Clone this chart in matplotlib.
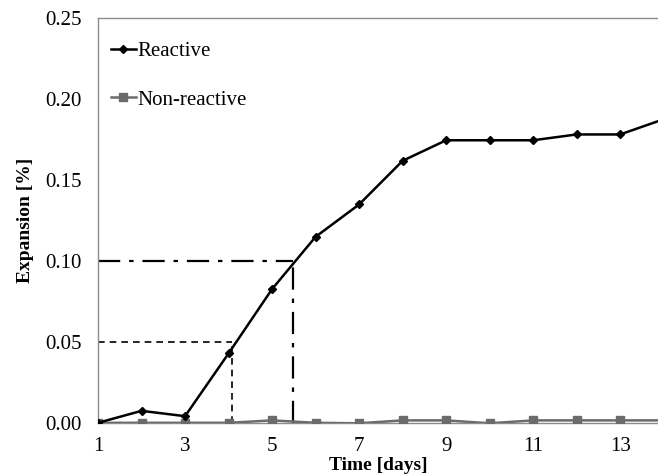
import matplotlib
matplotlib.use("Agg")
import matplotlib.pyplot as plt

plt.rcParams['font.family'] = ['Liberation Serif', 'DejaVu Serif']

days = [1, 2, 3, 4, 5, 6, 7, 8, 9, 10, 11, 12, 13, 14]
reactive = [0.0, 0.0074, 0.0041, 0.0429, 0.0827, 0.115, 0.135, 0.162,
            0.1747, 0.1747, 0.1747, 0.1783, 0.1783, 0.1877]
non_reactive = [0.0, 0.0, 0.0, 0.0, 0.0015, 0.0, -0.0003, 0.0015,
                0.0015, -0.0003, 0.0015, 0.0015, 0.0015, 0.0015]

# guide lines: (expansion level, day where reactive curve crosses it)
level_05 = (0.05, 4.08)
level_10 = (0.10, 5.48)

xticks = [1, 3, 5, 7, 9, 11, 13]
yticks = [0.0, 0.05, 0.10, 0.15, 0.20, 0.25]

fig = plt.figure(figsize=(6.58, 4.74), dpi=100)
ax = fig.add_axes([0.149, 0.108, 0.851, 0.853])

grey = '#6b6b6b'
ax.plot(days, non_reactive, color=grey, lw=1.8, marker='s', ms=6,
        label='Non-reactive', zorder=3)
ax.plot(days, reactive, color='black', lw=1.8, marker='D', ms=4.5,
        label='Reactive', zorder=4)

y, x = level_05
ax.plot([1, x], [y, y], color='black', lw=1.2, ls=(0, (4, 3)))
ax.plot([x, x], [0, y], color='black', lw=1.2, ls=(0, (4, 3)))
y, x = level_10
ax.plot([1, x], [y, y], color='black', lw=1.6, ls=(0, (10, 4, 2, 4)))
ax.plot([x, x], [0, y], color='black', lw=1.6, ls=(0, (10, 4, 2, 4)))

ax.set_xlim(1, 13.87)
ax.set_ylim(0, 0.25)
ax.set_xticks(xticks)
ax.set_yticks(yticks)
ax.set_yticklabels(['%.2f' % v for v in yticks])
ax.tick_params(length=0, labelsize=15)
ax.tick_params(axis='y', pad=12)
ax.tick_params(axis='x', pad=10)

for side in ['left', 'bottom', 'top']:
    ax.spines[side].set_color('#8c8c8c')
    ax.spines[side].set_linewidth(1.0)
ax.spines['right'].set_visible(False)
ax.spines['bottom'].set_zorder(2)

ax.set_xlabel('Time [days]', fontsize=14, fontweight='bold', labelpad=1)
ax.set_ylabel('Expansion [%]', fontsize=14, fontweight='bold', labelpad=8)

handles, labels = ax.get_legend_handles_labels()
ax.legend(handles[::-1], labels[::-1], loc='upper left', frameon=False,
          fontsize=15, handlelength=1.2, handletextpad=0.1,
          labelspacing=1.4, borderaxespad=0.5,
          bbox_to_anchor=(-0.011, 0.99))

fig.savefig('out.png', dpi=100)
